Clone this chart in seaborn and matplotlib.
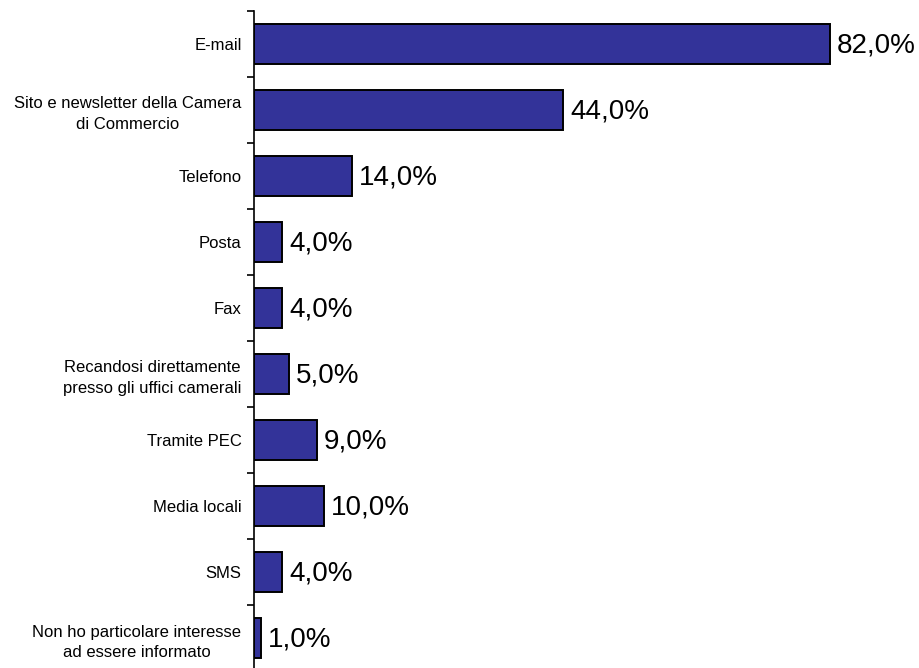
import matplotlib
matplotlib.use("Agg")
import matplotlib.pyplot as plt
import seaborn as sns
import pandas as pd

categories = [
    "E-mail",
    "Sito e newsletter della Camera\ndi Commercio",
    "Telefono",
    "Posta",
    "Fax",
    "Recandosi direttamente\npresso gli uffici camerali",
    "Tramite PEC",
    "Media locali",
    "SMS",
    "Non ho particolare interesse\nad essere informato",
]
values = [82.0, 44.0, 14.0, 4.0, 4.0, 5.0, 9.0, 10.0, 4.0, 1.0]

df = pd.DataFrame({"canale": categories, "percentuale": values})

sns.set_theme(style="white")
plt.rcParams["font.family"] = ["Liberation Sans", "DejaVu Sans"]

fig = plt.figure(figsize=(9.19, 6.68), dpi=100)
ax = fig.add_axes([254 / 919, -3 / 668, 1 - 254 / 919, 660 / 668])

sns.barplot(data=df, x="percentuale", y="canale", orient="h",
            color="#333399", saturation=1, width=0.6,
            edgecolor="black", linewidth=1.4, ax=ax)

ax.set_xlim(0, 665 / 7.02)
ax.set_ylim(len(categories) - 0.5, -0.5)
ax.set_xlabel("")
ax.set_ylabel("")
ax.set_xticks([])

for s in ["top", "right", "bottom"]:
    ax.spines[s].set_visible(False)
ax.spines["left"].set_color("black")
ax.spines["left"].set_linewidth(1.2)

# tick marks sit on category boundaries, labels at bar centres
ax.set_yticks([i - 0.5 for i in range(len(categories) + 1)], minor=False)
ax.set_yticklabels([])
ax.tick_params(axis="y", which="major", left=True, length=5, width=1.2,
               color="black", direction="out")
ax.set_yticks(range(len(categories)), minor=True)
ax.set_yticklabels(categories, minor=True, fontsize=12, color="black",
                   linespacing=1.45)
ax.tick_params(axis="y", which="minor", left=False, length=0, pad=9)
for lbl in ax.get_yticklabels(minor=True):
    lbl.set_horizontalalignment("right")
    lbl.set_multialignment("center")

for i, v in enumerate(values):
    ax.text(v + 1.0, i + 0.03, f"{v:.1f}".replace(".", ",") + "%",
            va="center", ha="left", fontsize=20, color="black")

fig.savefig("out.png", dpi=100)
